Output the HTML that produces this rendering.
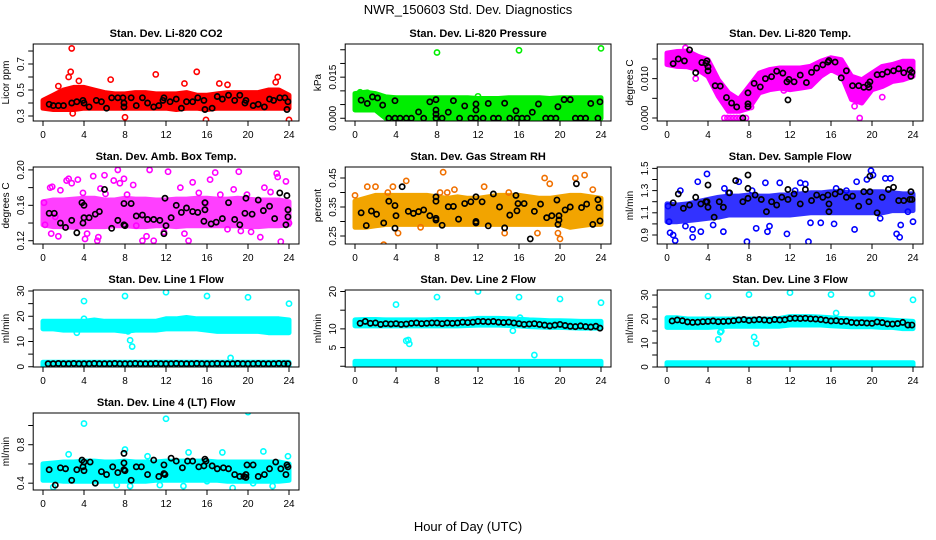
<!DOCTYPE html>
<html><head><meta charset="utf-8">
<style>
html,body{margin:0;padding:0;background:#fff;}
svg{display:block;font-family:"Liberation Sans",sans-serif;}
</style></head>
<body>
<svg id="chart" width="936" height="540" viewBox="0 0 936 540" xmlns="http://www.w3.org/2000/svg">
<text x="468" y="14" font-size="13" text-anchor="middle">NWR_150603  Std. Dev. Diagnostics</text>
<text x="468" y="531" font-size="13" text-anchor="middle">Hour of Day (UTC)</text>
</svg>
<script>
const hours = [0,1,2,3,4,5,6,7,8,9,10,11,12,13,14,15,16,17,18,19,20,21,22,23,24];
const xTicks = [0,4,8,12,16,20,24];

// Panel 1: CO2
const co2Lo = [0.36,0.35,0.35,0.35,0.36,0.36,0.36,0.36,0.36,0.36,0.36,0.36,0.36,0.35,0.36,0.36,0.35,0.36,0.36,0.36,0.36,0.36,0.36,0.36,0.36];
const co2Hi = [0.42,0.46,0.50,0.52,0.52,0.50,0.48,0.47,0.47,0.48,0.48,0.47,0.47,0.47,0.48,0.46,0.46,0.47,0.48,0.48,0.48,0.48,0.50,0.50,0.46];
const co2OutX = [2.8,2.7,2.5,11,15,6.6,22.9,22.7,2.9,8,15.9,24,17.2,13.8,1.5,18,3.5];
const co2OutY = [0.82,0.64,0.60,0.62,0.64,0.58,0.60,0.56,0.32,0.29,0.27,0.27,0.55,0.55,0.53,0.54,0.57];
const co2BlkX = [0.6,1,1.5,2,2.8,3.3,3.9,4,4.5,5.2,5.7,6.2,6.7,7.3,7.8,7.9,7.9,8.6,9.1,9.7,10.2,10.8,11.3,11.7,11.8,12.4,13,13.5,14,14.6,15.1,15.7,15.8,16.5,17,17.5,18.1,18.7,19.2,19.7,19.8,20.5,21,21.6,22.1,22.5,23.1,23.6,23.8,23.9];
const co2BlkY = [0.39,0.38,0.38,0.38,0.40,0.41,0.42,0.40,0.37,0.42,0.41,0.36,0.44,0.44,0.44,0.40,0.37,0.44,0.38,0.44,0.40,0.37,0.38,0.42,0.44,0.41,0.43,0.36,0.41,0.41,0.44,0.42,0.35,0.36,0.45,0.43,0.46,0.42,0.46,0.40,0.42,0.38,0.39,0.37,0.43,0.42,0.44,0.44,0.35,0.41];

// Panel 2: Pressure
const presLo = [0.003,0.003,0.003,0,0,0,0,0,0,0,0,0,0,0,0,0,0,0,0,0,0,0,0,0,0];
const presHi = [0.009,0.0095,0.009,0.0078,0.0075,0.0075,0.0075,0.0075,0.0075,0.0075,0.0075,0.0075,0.0072,0.0072,0.0072,0.0075,0.0075,0.0075,0.0075,0.0072,0.0075,0.0075,0.0075,0.0075,0.0075];
const presOutX = [8,16,24,12,0.5,1.2];
const presOutY = [0.024,0.0248,0.0255,0.008,0.0095,0.0093];
const presBlkX = [0.6,1.2,1.7,2.2,2.7,3.9,3.3,3.9,4.4,5,5.5,6.2,6.7,7.3,7.9,7.9,7.9,7.9,8.5,9.1,9.6,10.2,10.7,11.3,11.8,11.8,11.8,12.5,13,13.5,14,14.6,15.1,15.7,15.8,16.3,16.8,17.3,17.9,18.6,19.1,19.6,19.8,20.4,21,21.5,22,22.5,23,23.7,23.9];
const presBlkY = [0.0066,0.0054,0.0078,0.0074,0.0048,0.0064,0,0,0,0,0,0.0023,0,0.006,0.0068,0.003,0.0015,0,0,0.0022,0.0064,0,0.0045,0,0.003,0.0052,0,0,0.0054,0,0,0.0055,0,0.0027,0,0,0,0.0022,0.0052,0,0,0,0.0042,0.0068,0.0068,0,0,0,0.0054,0,0.006];

// Panel 3: Li-820 Temp
const tempLo = [0.0136,0.0131,0.013,0.0123,0.0106,0.0055,0.0017,0.0017,0.0025,0.0064,0.0072,0.0076,0.0072,0.0076,0.008,0.0106,0.0123,0.011,0.0047,0.0038,0.0072,0.008,0.0093,0.0097,0.0106];
const tempHi = [0.0165,0.0169,0.017,0.0157,0.0148,0.0097,0.0064,0.0047,0.008,0.0114,0.0123,0.0127,0.0127,0.0127,0.0131,0.0144,0.0153,0.0148,0.0106,0.0097,0.0114,0.0131,0.0136,0.0144,0.0144];
const tempOutX = [5.6,5.9,6.2,6.5,6.8,7.1,7.4,7.7,18.8,2.8,1.8,11.4,21,8.2,18.3];
const tempOutY = [0,0,0,0,0,0,0,0,0,0.0100,0.0178,0.0070,0.0053,0.0028,0.0030];
const tempBlkX = [0.6,1.1,1.7,2.2,2.8,3.4,3.8,3.9,4,4,4.7,5.2,5.8,6.3,6.8,7.4,7.9,7.9,7.9,8.5,9.1,9.6,10.2,10.7,11.3,11.7,11.8,11.9,12.4,13,13.6,14.1,14.6,15.2,15.7,15.8,16.4,17,17.5,18.1,18.7,19.2,19.6,19.7,19.8,20.5,21,21.5,22.1,22.6,23.1,23.7,23.8,23.9];
const tempBlkY = [0.0138,0.015,0.0145,0.0173,0.0115,0.0141,0.0139,0.0145,0.013,0.012,0.0082,0.0081,0.0052,0.0038,0.0028,0,0.0036,0.0029,0.0064,0.0088,0.0079,0.01,0.0105,0.0119,0.0114,0.0092,0.0046,0.0098,0.0092,0.0109,0.009,0.0116,0.0127,0.0135,0.0142,0.0146,0.0142,0.0102,0.012,0.0082,0.0082,0.0078,0.0085,0.0078,0.0092,0.011,0.0111,0.0117,0.012,0.0125,0.0115,0.0122,0.0106,0.0116];

// Panel 4: Amb Box Temp
const ambLo = [0.138,0.136,0.136,0.135,0.136,0.136,0.136,0.137,0.137,0.136,0.136,0.137,0.137,0.136,0.137,0.137,0.137,0.137,0.137,0.137,0.136,0.136,0.137,0.137,0.138];
const ambHi = [0.164,0.166,0.166,0.167,0.168,0.168,0.166,0.166,0.168,0.167,0.167,0.166,0.166,0.167,0.167,0.168,0.168,0.167,0.167,0.168,0.167,0.166,0.166,0.166,0.164];
const ambOutX = [0.1,0.2,0.7,0.9,0.8,1.2,1.5,1.7,2.3,2.5,2.8,3.4,3.9,4.1,4.3,4.9,5.3,5.6,5.4,6,6.1,6.9,7.3,7.5,7.9,8.2,8.8,9.1,9.7,10.1,10.4,10.8,11.8,12.2,13.4,13.8,14.2,14.6,15.2,15.9,16.3,16.8,17.3,18,18.6,19.1,19.3,19.9,20.3,21.2,21.6,22.2,22.8,22.9,23.2,23.7,24];
const ambOutY = [0.163,0.138,0.18,0.181,0.128,0.147,0.125,0.177,0.188,0.19,0.185,0.189,0.174,0.122,0.128,0.193,0.12,0.179,0.124,0.194,0.173,0.188,0.2,0.185,0.19,0.172,0.183,0.137,0.12,0.125,0.2,0.12,0.13,0.198,0.18,0.128,0.12,0.186,0.174,0.162,0.189,0.197,0.172,0.133,0.178,0.198,0.131,0.172,0.13,0.124,0.18,0.175,0.196,0.192,0.119,0.187,0.14];
const ambBlkX = [0.6,1.1,1.7,2.2,2.8,3.3,3.8,3.9,4,4,4.5,5.1,5.5,6,6.7,7.3,7.9,7.9,8,8.6,9.1,9.7,10.2,10.8,11.4,11.8,11.9,12,12.5,13,13.5,14,14.6,15.1,15.7,15.8,15.8,16.4,16.9,17.5,18.1,18.7,19.2,19.7,19.8,20.4,21,21.5,22.1,22.6,23.1,23.7,23.8,23.9,23.9];
const ambBlkY = [0.151,0.151,0.14,0.135,0.143,0.129,0.163,0.14,0.146,0.16,0.146,0.15,0.153,0.178,0.134,0.143,0.162,0.138,0.137,0.162,0.148,0.149,0.144,0.144,0.143,0.128,0.168,0.137,0.146,0.16,0.152,0.157,0.153,0.152,0.142,0.155,0.163,0.139,0.141,0.145,0.163,0.144,0.138,0.151,0.168,0.15,0.166,0.154,0.159,0.145,0.174,0.138,0.171,0.155,0.147];

// Panel 5: Gas Stream RH
const rhLo = [0.28,0.28,0.285,0.29,0.29,0.29,0.29,0.29,0.29,0.29,0.29,0.29,0.29,0.29,0.29,0.29,0.29,0.29,0.29,0.29,0.29,0.28,0.285,0.29,0.29];
const rhHi = [0.37,0.38,0.39,0.39,0.39,0.39,0.39,0.39,0.385,0.38,0.385,0.38,0.38,0.385,0.39,0.39,0.39,0.385,0.38,0.38,0.385,0.39,0.39,0.385,0.38];
const rhOutX = [0,1.2,2,2.8,3.2,3.7,5,8.6,8.3,9,9.7,12.6,15,18.5,19,19.8,20,21.5,22.4,23.2,17.8,14.6,4.2,6.4];
const rhOutY = [0.39,0.42,0.42,0.22,0.40,0.42,0.44,0.47,0.40,0.40,0.41,0.42,0.40,0.45,0.43,0.26,0.24,0.45,0.46,0.41,0.26,0.26,0.26,0.28];
const rhBlkX = [0.6,1.1,1.6,2.1,2.8,3.3,3.9,3.9,4,4.6,5.2,5.7,6.2,6.7,7.3,7.9,7.9,7.9,7.9,8.5,9.1,9.6,10.1,10.7,11.3,11.8,11.8,11.8,12.4,13,13.5,14.1,14.6,15.1,15.7,15.8,15.9,16.5,17.1,17.5,18.1,18.7,19.2,19.7,19.8,19.9,19.9,20.5,21,21.6,22.1,22.6,23.2,23.7,23.8,23.9];
const rhBlkY = [0.33,0.286,0.336,0.325,0.295,0.37,0.355,0.277,0.32,0.42,0.335,0.328,0.334,0.34,0.32,0.385,0.37,0.311,0.305,0.287,0.351,0.352,0.308,0.362,0.368,0.385,0.3,0.295,0.368,0.285,0.395,0.35,0.278,0.322,0.39,0.337,0.362,0.362,0.24,0.335,0.36,0.313,0.32,0.374,0.29,0.32,0.305,0.34,0.35,0.43,0.348,0.36,0.29,0.375,0.348,0.302];

// Panel 6: Sample Flow
const sfLo = [1.02,1.02,1.03,1.04,1.05,1.06,1.08,1.08,1.08,1.08,1.08,1.08,1.08,1.09,1.1,1.1,1.1,1.1,1.1,1.1,1.1,1.1,1.12,1.12,1.12];
const sfHi = [1.18,1.17,1.18,1.2,1.22,1.24,1.25,1.25,1.26,1.25,1.25,1.26,1.26,1.27,1.28,1.28,1.29,1.29,1.28,1.28,1.29,1.29,1.28,1.27,1.27];
const sfOutX = [0.1,0.2,0.3,0.6,0.8,1.3,1.8,2.5,2.5,3,3.3,3.9,4.5,5.5,5.6,7,7.8,8.7,9.6,9.8,10,11,11.7,13,13.5,13.8,14,15,16.3,17.5,18.3,18.5,19.5,19.9,20.1,20.8,21.3,21.8,22.4,22.7,22.8,24,6,8.3,12.5,16.5,23.5];
const sfOutY = [1.16,1.02,0.92,0.9,0.85,1.3,0.98,0.88,0.95,1.38,0.93,1.45,0.99,0.93,1.32,1.38,0.84,0.96,1.37,0.93,0.98,1.37,0.91,1.37,1.36,0.84,1.01,1.01,1.0,1.3,0.95,1.38,1.4,1.48,1.44,1.05,1.41,1.41,0.91,0.88,0.99,1.02,1.28,1.3,1.3,1.32,1.11];
const sfBlkX = [0.6,1.1,1.6,2.2,2.8,3.3,3.8,3.9,4,4,4.6,5.1,5.5,6.1,6.7,7.4,7.9,7.9,7.9,8.6,9.2,9.7,10.2,10.7,11.2,11.8,11.8,12.4,13,13.5,14.1,14.6,15.2,15.7,15.8,15.8,16.4,16.9,17.5,18.1,18.7,19.2,19.7,19.8,19.8,20.5,21,21.6,22.1,22.6,23.1,23.7,23.8,23.9];
const sfBlkY = [1.19,1.27,1.14,1.17,1.24,1.18,1.2,1.2,1.35,1.15,1.06,1.2,1.15,1.28,1.39,1.2,1.44,1.32,1.23,1.26,1.22,1.11,1.2,1.17,1.24,1.31,1.22,1.27,1.18,1.31,1.21,1.26,1.24,1.26,1.11,1.18,1.27,1.29,1.24,1.25,1.16,1.29,1.2,1.29,1.43,1.1,1.24,1.31,1.33,1.21,1.21,1.22,1.29,1.22];

// Panel 7: Line 1 Flow
const l1Lo = [15,15,14.5,14.5,14.5,14.5,14.5,14.5,14,14.5,14.5,14.5,15,15,15,15,14.5,14,14,14,14,14,13.5,13.5,13.5];
const l1Hi = [18,18,18,18,18,18.5,18,18,18,18,18,18,19,19,19.5,19,19,19,19,19,19,19,19,19,18.5];
const l1BaseLo = [0.3,0.3,0.3,0.3,0.3,0.3,0.3,0.3,0.3,0.3,0.3,0.3,0.3,0.3,0.3,0.3,0.3,0.3,0.3,0.3,0.3,0.3,0.3,0.3,0.3];
const l1BaseHi = [1.8,1.8,1.8,1.8,1.8,1.8,1.8,1.8,1.8,1.8,1.8,1.8,1.8,1.8,1.8,1.8,1.8,1.8,1.8,1.8,1.8,1.8,1.8,1.8,1.8];
const l1OutX = [4,8,12,16,20,24,8.5,8.7,18.3,4,3.3,8.3];
const l1OutY = [26,28,29.5,28,27.5,25,10.5,8,3.5,19,13.5,14];
const l1BlkX = [0.5,1,1.5,2,2.5,3,3.5,4,4.5,5,5.5,6,6.5,7,7.5,8,8.5,9,9.5,10,10.5,11,11.5,12,12.5,13,13.5,14,14.5,15,15.5,16,16.5,17,17.5,18,18.5,19,19.5,20,20.5,21,21.5,22,22.5,23,23.5,23.9];
const l1BlkY = [1.2,1.2,1.3,1.2,1.2,1.3,1.2,1.2,1.2,1.3,1.2,1.2,1.2,1.3,1.2,1.2,1.2,1.3,1.2,1.2,1.2,1.3,1.2,1.2,1.2,1.3,1.2,1.2,1.2,1.3,1.2,1.2,1.2,1.3,1.2,1.2,1.2,1.3,1.2,1.2,1.2,1.3,1.2,1.2,1.2,1.3,1.2,1.2];

// Panel 8: Line 2 Flow
const l2Lo = [10.8,10.8,10.8,10.8,10.8,10.8,10.8,10.8,10.8,10.8,10.8,10.9,11,11,11,10.9,10.8,10.6,10.5,10.4,10.4,10.3,10.2,10.2,10.2];
const l2Hi = [12.4,12.5,12.5,12.4,12.4,12.4,12.4,12.4,12.5,12.5,12.5,12.6,12.8,12.8,12.8,12.7,12.6,12.4,12.3,12.2,12.2,12.1,12,12,12];
const l2BaseLo = [0.3,0.3,0.3,0.3,0.3,0.3,0.3,0.3,0.3,0.3,0.3,0.3,0.3,0.3,0.3,0.3,0.3,0.3,0.3,0.3,0.3,0.3,0.3,0.3,0.3];
const l2BaseHi = [1.3,1.3,1.3,1.3,1.3,1.3,1.3,1.3,1.3,1.3,1.3,1.3,1.3,1.3,1.3,1.3,1.3,1.3,1.3,1.3,1.3,1.3,1.3,1.3,1.3];
const l2OutX = [4,8,12,16,20,24,5,5.2,5.3,17.5,15.4,16.1];
const l2OutY = [16.5,18.5,20,18.5,18,17,6.8,7,6,3,9.5,13];
const l2BlkX = [0.5,1,1.5,2,2.5,3,3.5,4,4.5,5,5.5,6,6.5,7,7.5,8,8.5,9,9.5,10,10.5,11,11.5,12,12.5,13,13.5,14,14.5,15,15.5,16,16.5,17,17.5,18,18.5,19,19.5,20,20.5,21,21.5,22,22.5,23,23.5,23.9];
const l2BlkY = [11.5,12,11.5,11.6,11.2,11.4,11.3,11.4,11.2,11.3,11.5,11.6,11.4,11.5,11.6,11.6,11.4,11.6,11.5,11.6,11.8,11.7,11.8,12,12,11.9,12,11.8,11.7,11.8,11.6,11.4,11.2,11.3,11.4,11.2,11,10.8,11,11.2,10.9,10.7,10.6,10.8,10.6,10.5,10.7,10.2];

// Panel 9: Line 3 Flow
const l3Lo = [16.5,16.5,16.5,16.5,16.5,16.8,17,17,17,17,17,17,17.5,17.5,17.5,17.5,17.2,17,16.8,16.8,16.8,16.5,16.5,16,16];
const l3Hi = [20.5,20.5,20,20,20,20,20,20,20,20,20,20.2,21,21,21,20.8,20.5,20.2,20,20,20,19.8,19.5,19.2,19];
const l3BaseLo = [0.3,0.3,0.3,0.3,0.3,0.3,0.3,0.3,0.3,0.3,0.3,0.3,0.3,0.3,0.3,0.3,0.3,0.3,0.3,0.3,0.3,0.3,0.3,0.3,0.3];
const l3BaseHi = [1.8,1.8,1.8,1.8,1.8,1.8,1.8,1.8,1.8,1.8,1.8,1.8,1.8,1.8,1.8,1.8,1.8,1.8,1.8,1.8,1.8,1.8,1.8,1.8,1.8];
const l3OutX = [4,8,12,16,20,24,5,5.2,5.3,8.5,8.7,16.5];
const l3OutY = [29.5,30.2,31,30.2,30.5,28,11.5,14.5,15,12.5,9.8,22.5];
const l3BlkX = [0.5,1,1.5,2,2.5,3,3.5,4,4.5,5,5.5,6,6.5,7,7.5,8,8.5,9,9.5,10,10.5,11,11.5,12,12.5,13,13.5,14,14.5,15,15.5,16,16.5,17,17.5,18,18.5,19,19.5,20,20.5,21,21.5,22,22.5,23,23.5,23.9];
const l3BlkY = [19.2,19.6,19.3,18.8,18.6,18.7,18.9,19,19.2,18.9,19,19.1,19.3,19.6,19.8,19.4,19.6,19.8,19.6,19.4,19.8,19.6,19.7,20.2,20.3,20.2,20.3,20.1,20,19.8,19.5,19.2,19.3,19,19.1,18.6,18.4,18.5,18.3,18.2,18.8,18.5,18,17.9,18.1,18.6,17.5,17.5];

// Panel 10: Line 4 (LT) Flow
const l4Lo = [0.43,0.43,0.42,0.42,0.42,0.42,0.42,0.42,0.42,0.42,0.42,0.43,0.43,0.43,0.43,0.43,0.43,0.43,0.42,0.42,0.42,0.42,0.42,0.42,0.43];
const l4Hi = [0.6,0.61,0.62,0.62,0.63,0.63,0.62,0.62,0.63,0.62,0.62,0.62,0.63,0.63,0.63,0.63,0.63,0.62,0.62,0.62,0.62,0.62,0.62,0.62,0.6];
const l4OutX = [4,12,20,8,21.5,2.5,17.5,14.2,23.9,10.2,8.5,18.5,13.7,22.4,1,5.1,7.2,11.4,16,20.5];
const l4OutY = [1.02,1.07,1.14,0.75,0.73,0.70,0.72,0.72,0.68,0.68,0.37,0.35,0.37,0.37,0.36,0.40,0.38,0.38,0.42,0.40];
const l4BlkX = [0.6,1.2,1.7,2.2,2.8,3.3,3.8,3.9,4,4,4.6,5.1,5.7,6.2,6.8,7.3,7.9,7.9,7.9,8,8.6,9.1,9.6,10.2,10.8,11.3,11.8,11.8,11.9,12.5,13,13.6,14.1,14.6,15.2,15.7,15.8,15.9,16.5,17,17.6,18.1,18.7,19.2,19.6,19.8,19.8,19.9,20.5,21,21.6,22.1,22.7,23.2,23.7,23.8,23.9];
const l4BlkY = [0.54,0.38,0.56,0.55,0.43,0.54,0.64,0.57,0.62,0.53,0.62,0.4,0.52,0.49,0.57,0.51,0.71,0.61,0.54,0.53,0.43,0.57,0.57,0.49,0.64,0.47,0.5,0.59,0.49,0.66,0.63,0.56,0.63,0.63,0.57,0.58,0.65,0.63,0.58,0.55,0.56,0.55,0.49,0.47,0.47,0.46,0.49,0.59,0.59,0.47,0.49,0.55,0.62,0.55,0.49,0.59,0.57];

const NS = 'http://www.w3.org/2000/svg';
const svg = document.getElementById('chart');
function mk(tag, attrs, parent) {
  const el = document.createElementNS(NS, tag);
  for (const k in attrs) el.setAttribute(k, attrs[k]);
  (parent || svg).appendChild(el);
  return el;
}

const colX0 = [43, 355, 667];
const rowTop = [44, 167, 290, 413];
const PH = 77, XS = 10.25;

function panel(p) {
  const g = mk('g', {});
  
  
  const x0 = colX0[p.col];
  const top = rowTop[p.row], bot = top + PH;
  const left = x0 - 9.8, right = x0 + 24 * XS + 10;
  const xs = h => x0 + h * XS;
  const ys = v => bot - (v - p.ylim[0]) / (p.ylim[1] - p.ylim[0]) * PH;

  const clip = 'clip-' + p.name;
  const cp = mk('clipPath', {id: clip}, g);
  mk('rect', {x: left, y: top, width: right - left, height: PH}, cp);
  const marks = mk('g', {'clip-path': 'url(#' + clip + ')'}, g);

  // bands
  p.bands.forEach((b, bi) => {
    const pts = [];
    for (let i = 0; i < hours.length; i++) pts.push(xs(hours[i]).toFixed(1) + ',' + ys(b[1][i]).toFixed(1));
    for (let i = hours.length - 1; i >= 0; i--) pts.push(xs(hours[i]).toFixed(1) + ',' + ys(b[0][i]).toFixed(1));
    const poly = mk('polygon', {points: pts.join(' '), fill: p.fill || p.color, stroke: p.fill || p.color, 'stroke-width': 5, 'stroke-linejoin': 'round', opacity: p.bandOpacity || 1}, marks);
    
    
  });
  // colored outlier points
  for (let i = 0; i < p.ox.length; i++) {
    const c = mk('circle', {cx: xs(p.ox[i]), cy: ys(p.oy[i]), r: 2.6, fill: 'none', stroke: p.color, 'stroke-width': 1.6}, marks);
    
    
  }
  // black points
  for (let i = 0; i < p.bx.length; i++) {
    const c = mk('circle', {cx: xs(p.bx[i]), cy: ys(p.by[i]), r: 2.6, fill: 'none', stroke: '#000', 'stroke-width': 1.7}, marks);
    
    
  }

  const box = mk('rect', {x: left, y: top, width: right - left, height: PH, fill: 'none', stroke: '#000', 'stroke-width': 1}, g);
  
  

  const t = mk('text', {x: (left + right) / 2, y: top - 7, 'font-size': 11, 'font-weight': 'bold', 'text-anchor': 'middle'}, g);
  t.textContent = p.title;
  
  

  // x axis
  xTicks.forEach(h => {
    mk('line', {x1: xs(h), x2: xs(h), y1: bot, y2: bot + 5, stroke: '#000'}, g);
    const tl = mk('text', {x: xs(h), y: bot + 17, 'font-size': 10, 'text-anchor': 'middle'}, g);
    tl.textContent = String(h);
    
    
  });
  // y axis
  p.ticks.forEach((v, i) => {
    const yy = ys(v);
    mk('line', {x1: left - 5, x2: left, y1: yy, y2: yy, stroke: '#000'}, g);
    if (p.labels[i]) {
      const lx = left - 9;
      const tl = mk('text', {x: lx, y: yy, 'font-size': 10, 'text-anchor': 'middle', transform: 'rotate(-90 ' + lx + ' ' + yy + ')'}, g);
      tl.textContent = p.labels[i];
      
      
    }
  });
  const ax = left - 24, ay = (top + bot) / 2;
  const yl = mk('text', {x: ax, y: ay, 'font-size': 10, 'text-anchor': 'middle', transform: 'rotate(-90 ' + ax + ' ' + ay + ')'}, g);
  yl.textContent = p.ylab;
  
  
}

panel({name:'co2-panel', col:0,row:0,title:'Stan. Dev. Li-820 CO2',ylab:'Licor ppm',ylim:[0.2615,0.854],ticks:[0.3,0.4,0.5,0.6,0.7,0.8],labels:['0.3','','0.5','','0.7',''],color:'#ff0000',bands:[[co2Lo,co2Hi]],ox:co2OutX,oy:co2OutY,bx:co2BlkX,by:co2BlkY});
panel({name:'pressure-panel', col:1,row:0,title:'Stan. Dev. Li-820 Pressure',ylab:'kPa',ylim:[-0.001,0.0271],ticks:[0,0.005,0.01,0.015,0.02,0.025],labels:['0.000','','','0.015','',''],color:'#00ee00',bands:[[presLo,presHi]],ox:presOutX,oy:presOutY,bx:presBlkX,by:presBlkY});
panel({name:'temp-panel', col:2,row:0,title:'Stan. Dev. Li-820 Temp.',ylab:'degrees C',ylim:[-0.00076,0.0188],ticks:[0,0.005,0.01,0.015],labels:['0.000','','0.010',''],color:'#ff00ff',bands:[[tempLo,tempHi]],ox:tempOutX,oy:tempOutY,bx:tempBlkX,by:tempBlkY});
panel({name:'amb-box-panel', col:0,row:1,title:'Stan. Dev. Amb. Box Temp.',ylab:'degrees C',ylim:[0.1163,0.2033],ticks:[0.12,0.14,0.16,0.18,0.2],labels:['0.12','','0.16','','0.20'],color:'#ff00ff',bandOpacity:0.75,bands:[[ambLo,ambHi]],ox:ambOutX,oy:ambOutY,bx:ambBlkX,by:ambBlkY});
panel({name:'rh-panel', col:1,row:1,title:'Stan. Dev. Gas Stream RH',ylab:'percent',ylim:[0.2224,0.4879],ticks:[0.25,0.3,0.35,0.4,0.45],labels:['0.25','','0.35','','0.45'],color:'#f07000',fill:'#f2a400',bands:[[rhLo,rhHi]],ox:rhOutX,oy:rhOutY,bx:rhBlkX,by:rhBlkY});
panel({name:'sample-flow-panel', col:2,row:1,title:'Stan. Dev. Sample Flow',ylab:'ml/min',ylim:[0.8189,1.5126],ticks:[0.9,1.0,1.1,1.2,1.3,1.4,1.5],labels:['0.9','','1.1','','1.3','','1.5'],color:'#0000ff',bandOpacity:0.8,bands:[[sfLo,sfHi]],ox:sfOutX,oy:sfOutY,bx:sfBlkX,by:sfBlkY});
panel({name:'line1-panel', col:0,row:2,title:'Stan. Dev. Line 1 Flow',ylab:'ml/min',ylim:[-0.1,30.4],ticks:[0,5,10,15,20,25,30],labels:['0','','10','','20','','30'],color:'#00ffff',bands:[[l1Lo,l1Hi],[l1BaseLo,l1BaseHi]],ox:l1OutX,oy:l1OutY,bx:l1BlkX,by:l1BlkY});
panel({name:'line2-panel', col:1,row:2,title:'Stan. Dev. Line 2 Flow',ylab:'ml/min',ylim:[-0.2,20.4],ticks:[0,5,10,15,20],labels:['','5','10','','20'],color:'#00ffff',bands:[[l2Lo,l2Hi],[l2BaseLo,l2BaseHi]],ox:l2OutX,oy:l2OutY,bx:l2BlkX,by:l2BlkY});
panel({name:'line3-panel', col:2,row:2,title:'Stan. Dev. Line 3 Flow',ylab:'ml/min',ylim:[0,32.1],ticks:[0,5,10,15,20,25,30],labels:['0','','10','','20','','30'],color:'#00ffff',bands:[[l3Lo,l3Hi],[l3BaseLo,l3BaseHi]],ox:l3OutX,oy:l3OutY,bx:l3BlkX,by:l3BlkY});
panel({name:'line4-panel', col:0,row:3,title:'Stan. Dev. Line 4 (LT) Flow',ylab:'ml/min',ylim:[0.329,1.13],ticks:[0.4,0.6,0.8,1.0],labels:['0.4','','0.8',''],color:'#00ffff',bands:[[l4Lo,l4Hi]],ox:l4OutX,oy:l4OutY,bx:l4BlkX,by:l4BlkY});
</script>
</body></html>
